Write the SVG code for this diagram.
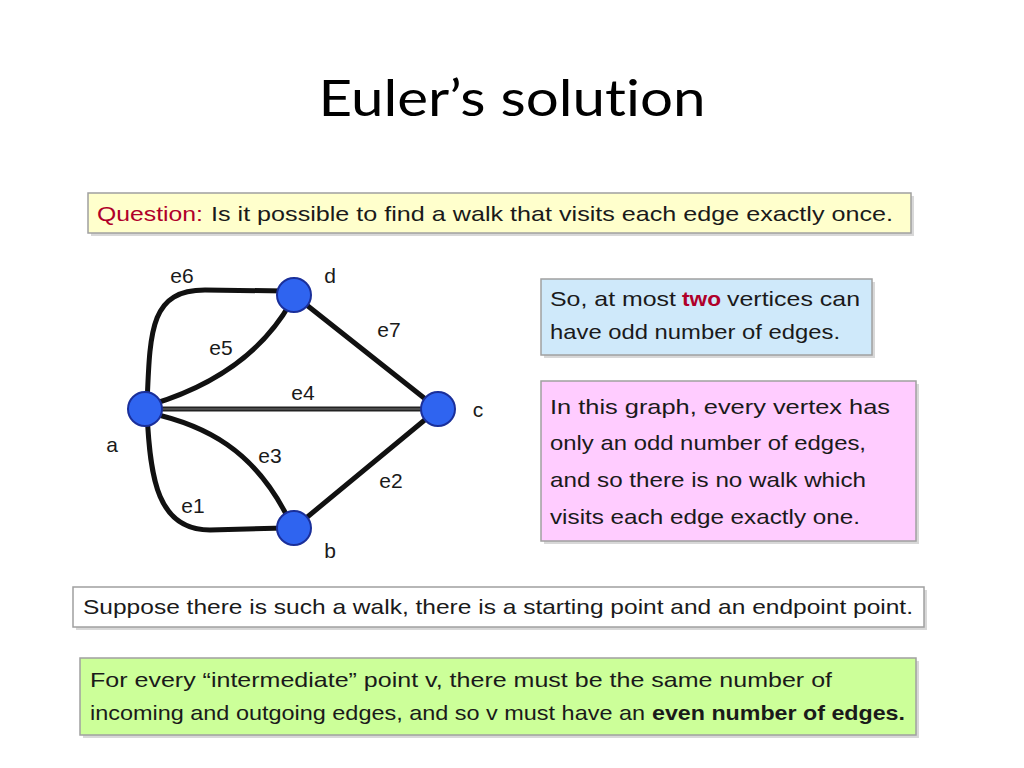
<svg xmlns="http://www.w3.org/2000/svg" width="1024" height="768" viewBox="0 0 1024 768">
<style>
.t{font-family:"Liberation Sans",Arial,sans-serif;font-size:21px;fill:#1a1a1a}
.lbl{font-family:"Liberation Sans",Arial,sans-serif;font-size:21px;fill:#1a1a1a;text-anchor:middle}
.red{fill:#b0002a}
.b{font-weight:bold}
.box{stroke:#a0a0a0;stroke-width:1.5}
.sh{fill:#d8d8d8}
.edge{fill:none;stroke:#111;stroke-width:5;stroke-linecap:round}
.node{fill:#2f64f0;stroke:#1a2f9a;stroke-width:2}
</style>
<rect width="1024" height="768" fill="#fff"/>
<text x="512" y="116" text-anchor="middle" font-family="Lato,'Open Sans',sans-serif" font-size="50" fill="#000" style="font-variant-ligatures:none" textLength="387" lengthAdjust="spacingAndGlyphs">Euler’s solution</text>

<g id="question">
<rect x="91" y="196" width="823" height="40" class="sh"/>
<rect x="88" y="193" width="823" height="40" fill="#ffffcc" class="box"/>
<text x="97" y="221" class="t red" textLength="106" lengthAdjust="spacingAndGlyphs">Question:</text>
<text x="211" y="221" class="t" textLength="682" lengthAdjust="spacingAndGlyphs">Is it possible to find a walk that visits each edge exactly once.</text>
</g>

<g id="edges">
<path class="edge" d="M147,405 C150,330 150,290 205,290 L285,291"/>
<path class="edge" d="M150,405 Q250,375 291,302"/>
<line x1="145" y1="409" x2="438" y2="409" stroke="#222" stroke-width="5"/>
<line x1="145" y1="409" x2="438" y2="409" stroke="#777" stroke-width="1"/>
<path class="edge" d="M294,295 L438,409"/>
<path class="edge" d="M150,413 C205,425 255,450 289,520"/>
<path class="edge" d="M147,412 C150,480 158,530 210,530 L285,528"/>
<path class="edge" d="M294,528 L438,409"/>
</g>

<g id="node-a"><circle class="node" cx="145" cy="409" r="17"/><text class="lbl" x="112" y="452">a</text></g>
<g id="node-d"><circle class="node" cx="294" cy="295" r="17"/><text class="lbl" x="330" y="283">d</text></g>
<g id="node-c"><circle class="node" cx="438" cy="409" r="17"/><text class="lbl" x="478" y="417">c</text></g>
<g id="node-b"><circle class="node" cx="294" cy="528" r="17"/><text class="lbl" x="330" y="558">b</text></g>

<g id="edge-labels">
<text class="lbl" x="182" y="283">e6</text>
<text class="lbl" x="389" y="337">e7</text>
<text class="lbl" x="221" y="355">e5</text>
<text class="lbl" x="303" y="400">e4</text>
<text class="lbl" x="270" y="463">e3</text>
<text class="lbl" x="391" y="488">e2</text>
<text class="lbl" x="193" y="513">e1</text>
</g>

<g id="note-two">
<rect x="544" y="282" width="331" height="76" class="sh"/>
<rect x="541" y="279" width="331" height="76" fill="#cfe9fa" class="box"/>
<text x="550" y="306" class="t" textLength="126" lengthAdjust="spacingAndGlyphs">So, at most</text>
<text x="682" y="306" class="t red b" textLength="39" lengthAdjust="spacingAndGlyphs">two</text>
<text x="727" y="306" class="t" textLength="133" lengthAdjust="spacingAndGlyphs">vertices can</text>
<text x="550" y="339" class="t" textLength="290" lengthAdjust="spacingAndGlyphs">have odd number of edges.</text>
</g>

<g id="note-graph">
<rect x="544" y="384" width="375" height="160" class="sh"/>
<rect x="541" y="381" width="375" height="160" fill="#ffccff" class="box"/>
<text x="550" y="414" class="t" textLength="340" lengthAdjust="spacingAndGlyphs">In this graph, every vertex has</text>
<text x="550" y="450" class="t" textLength="316" lengthAdjust="spacingAndGlyphs">only an odd number of edges,</text>
<text x="550" y="487" class="t" textLength="316" lengthAdjust="spacingAndGlyphs">and so there is no walk which</text>
<text x="550" y="524" class="t" textLength="310" lengthAdjust="spacingAndGlyphs">visits each edge exactly one.</text>
</g>

<g id="suppose">
<rect x="76" y="590" width="851" height="40" class="sh"/>
<rect x="73" y="587" width="851" height="40" fill="#ffffff" class="box"/>
<text x="83" y="614" class="t" textLength="830" lengthAdjust="spacingAndGlyphs">Suppose there is such a walk, there is a starting point and an endpoint point.</text>
</g>

<g id="intermediate">
<rect x="83" y="661" width="836" height="77" class="sh"/>
<rect x="80" y="658" width="836" height="77" fill="#ccff99" class="box"/>
<text x="90" y="687" class="t" textLength="742" lengthAdjust="spacingAndGlyphs">For every “intermediate” point v, there must be the same number of</text>
<text x="90" y="720" class="t" textLength="555" lengthAdjust="spacingAndGlyphs">incoming and outgoing edges, and so v must have an</text>
<text x="652" y="720" class="t b" textLength="253" lengthAdjust="spacingAndGlyphs">even number of edges.</text>
</g>
</svg>
